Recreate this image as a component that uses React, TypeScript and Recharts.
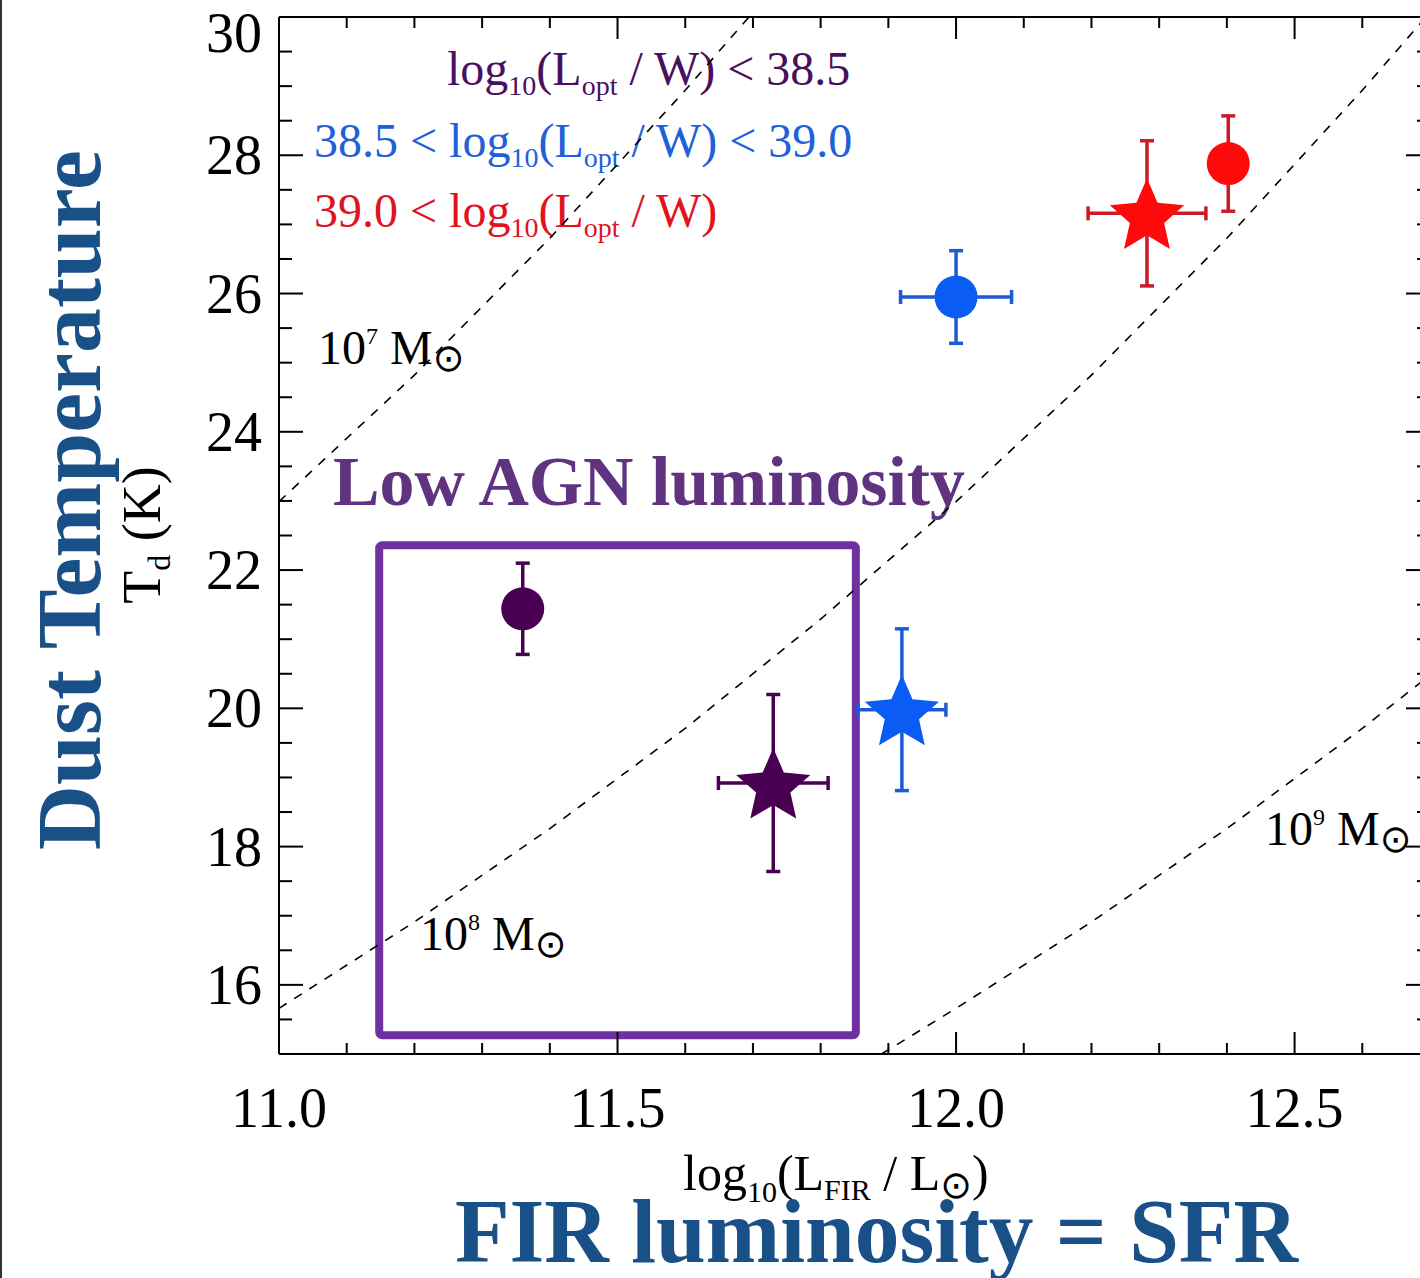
import React from 'react';
import { ScatterChart, Scatter, XAxis, YAxis, ErrorBar, ReferenceArea } from 'recharts';

// log10(L_FIR / L_sun) vs dust temperature, three AGN optical luminosity bins
const binColors = ['#4a0052', '#0a5cf5', '#ff0a0a'];
const barColors = ['#4a0052', '#1f5ad6', '#cc1a28'];

// circles
const circleL = [11.36, 12.0, 12.402];
const circleT = [21.44, 25.95, 27.88];
const circleLErr = [0, 0.082, 0];
const circleTErr = [0.66, 0.67, 0.69];

// stars
const starL = [11.73, 11.92, 12.282];
const starT = [18.92, 19.98, 27.16];
const starLErr = [0.081, 0.065, 0.087];
const starTErr = [1.28, 1.17, 1.05];

// constant dust mass tracks (10^7, 10^8, 10^9 M_sun)
const mass7L = [11.0, 11.2, 11.4, 11.6, 11.694];
const mass7T = [22.99, 24.82, 26.8, 28.94, 30.0];
const mass8L = [11.0, 11.2, 11.4, 11.6, 11.8, 12.0, 12.2, 12.4, 12.6, 12.694];
const mass8T = [15.66, 16.91, 18.26, 19.71, 21.29, 22.99, 24.82, 26.8, 28.94, 30.0];
const mass9L = [11.89, 12.0, 12.2, 12.4, 12.6, 12.7];
const mass9T = [15.0, 15.66, 16.91, 18.26, 19.71, 20.48];

const xTicks = [11.0, 11.1, 11.2, 11.3, 11.4, 11.5, 11.6, 11.7, 11.8, 11.9, 12.0, 12.1, 12.2, 12.3, 12.4, 12.5, 12.6, 12.7];
const yTicks = [15, 15.5, 16, 16.5, 17, 17.5, 18, 18.5, 19, 19.5, 20, 20.5, 21, 21.5, 22, 22.5, 23, 23.5, 24, 24.5, 25, 25.5, 26, 26.5, 27, 27.5, 28, 28.5, 29, 29.5, 30];

// box around the low-AGN points
const boxL = [11.148, 11.852];
const boxT = [15.27, 22.36];

const SERIF = '"Liberation Serif", "Times New Roman", serif';
const SUN = '"DejaVu Sans", sans-serif';
const TITLE_BLUE = '#1a5088';

const track = (ls: number[], ts: number[]) => ls.map((l, i) => ({ l, t: ts[i] }));
const point = (ls: number[], ts: number[], le: number[], te: number[], i: number) => [
  { l: ls[i], t: ts[i], lErr: le[i], tErr: te[i] },
];

const isMajorX = (v: number) => Math.abs(v * 2 - Math.round(v * 2)) < 1e-6;
const isMajorY = (v: number) => Math.abs(v / 2 - Math.round(v / 2)) < 1e-6;

const BottomTick = (props: any) => {
  const { x, y, payload } = props;
  const major = isMajorX(payload.value);
  return (
    <g>
      <line x1={x} x2={x} y1={y} y2={y - (major ? 22 : 11)} stroke="#000" strokeWidth={2} />
      {major && (
        <text x={x} y={y + 73} textAnchor="middle" fontSize={56} fontFamily={SERIF} fill="#000">
          {payload.value.toFixed(1)}
        </text>
      )}
    </g>
  );
};

const TopTick = (props: any) => {
  const { x, y, payload } = props;
  const major = isMajorX(payload.value);
  return <line x1={x} x2={x} y1={y} y2={y + (major ? 22 : 11)} stroke="#000" strokeWidth={2} />;
};

const LeftTick = (props: any) => {
  const { x, y, payload } = props;
  const v = payload.value;
  const major = isMajorY(v);
  const shift = v === 30 ? 16 : 0;
  return (
    <g>
      <line x1={x} x2={x + (major ? 24 : 13)} y1={y} y2={y} stroke="#000" strokeWidth={2} />
      {major && v > 15 && (
        <text x={x - 17} y={y + 19 + shift} textAnchor="end" fontSize={56} fontFamily={SERIF} fill="#000">
          {v}
        </text>
      )}
    </g>
  );
};

const RightTick = (props: any) => {
  const { x, y, payload } = props;
  const major = isMajorY(payload.value);
  return <line x1={x} x2={x - (major ? 24 : 13)} y1={y} y2={y} stroke="#000" strokeWidth={2} />;
};

const starPath = (cx: number, cy: number, R: number, r: number) => {
  const pts: string[] = [];
  for (let k = 0; k < 10; k++) {
    const a = -Math.PI / 2 + (k * Math.PI) / 5;
    const rad = k % 2 === 0 ? R : r;
    pts.push(`${(cx + rad * Math.cos(a)).toFixed(2)},${(cy + rad * Math.sin(a)).toFixed(2)}`);
  }
  return `M${pts.join('L')}Z`;
};

const starShape = (fill: string) => (p: any) => <path d={starPath(p.cx, p.cy + 4, 39, 18)} fill={fill} />;
const circleShape = (fill: string) => (p: any) => <circle cx={p.cx} cy={p.cy} r={21.5} fill={fill} />;
const noShape = () => <g />;

const dashLine = { stroke: '#000', strokeWidth: 1.6, strokeDasharray: '9 9' };

const MassLabel = ({ x, y, exp }: { x: number; y: number; exp: string }) => (
  <text x={x} y={y} fontSize={48} fontFamily={SERIF} fill="#000">
    10
    <tspan fontSize={24} dy={-20}>{exp}</tspan>
    <tspan dy={20}> M</tspan>
    <tspan fontFamily={SUN} fontSize={38} dy={7}>⊙</tspan>
  </text>
);

const axisLine = { stroke: '#000', strokeWidth: 2 };

export default function App() {
  return (
    <div style={{ position: 'absolute', left: 0, top: 0, width: 1420, height: 1278, overflow: 'hidden', background: '#fff' }}>
      <ScatterChart width={1440} height={1278} margin={{ top: 16, right: 9, bottom: 223, left: 278 }}>
        <XAxis
          type="number"
          dataKey="l"
          domain={[11, 12.7]}
          ticks={xTicks}
          allowDataOverflow
          height={1}
          tickSize={0}
          tickMargin={0}
          tickLine={false}
          interval={0}
          axisLine={axisLine}
          tick={<BottomTick />}
        />
        <XAxis
          xAxisId="top"
          orientation="top"
          type="number"
          dataKey="l"
          domain={[11, 12.7]}
          ticks={xTicks}
          allowDataOverflow
          height={1}
          tickSize={0}
          tickMargin={0}
          tickLine={false}
          interval={0}
          axisLine={axisLine}
          tick={<TopTick />}
        />
        <YAxis
          type="number"
          dataKey="t"
          domain={[15, 30]}
          ticks={yTicks}
          allowDataOverflow
          width={1}
          tickSize={0}
          tickMargin={0}
          tickLine={false}
          interval={0}
          axisLine={axisLine}
          tick={<LeftTick />}
        />
        <YAxis
          yAxisId="right"
          orientation="right"
          type="number"
          dataKey="t"
          domain={[15, 30]}
          ticks={yTicks}
          allowDataOverflow
          width={1}
          tickSize={0}
          tickMargin={0}
          tickLine={false}
          interval={0}
          axisLine={axisLine}
          tick={<RightTick />}
        />

        <Scatter data={track(mass7L, mass7T)} line={dashLine} shape={noShape} isAnimationActive={false} />
        <Scatter data={track(mass8L, mass8T)} line={dashLine} shape={noShape} isAnimationActive={false} />
        <Scatter data={track(mass9L, mass9T)} line={dashLine} shape={noShape} isAnimationActive={false} />

        {[0, 1, 2].map((i) => (
          <Scatter
            key={`star-${i}`}
            data={point(starL, starT, starLErr, starTErr, i)}
            shape={starShape(binColors[i])}
            isAnimationActive={false}
          >
            <ErrorBar dataKey="tErr" direction="y" width={7} strokeWidth={3.5} stroke={barColors[i]} />
            <ErrorBar dataKey="lErr" direction="x" width={7} strokeWidth={3.5} stroke={barColors[i]} />
          </Scatter>
        ))}
        {[0, 1, 2].map((i) => (
          <Scatter
            key={`circle-${i}`}
            data={point(circleL, circleT, circleLErr, circleTErr, i)}
            shape={circleShape(binColors[i])}
            isAnimationActive={false}
          >
            <ErrorBar dataKey="tErr" direction="y" width={7} strokeWidth={3.5} stroke={barColors[i]} />
            {circleLErr[i] > 0 && (
              <ErrorBar dataKey="lErr" direction="x" width={7} strokeWidth={3.5} stroke={barColors[i]} />
            )}
          </Scatter>
        ))}

        <ReferenceArea
          x1={boxL[0]}
          x2={boxL[1]}
          y1={boxT[0]}
          y2={boxT[1]}
          fill="none"
          fillOpacity={0}
          stroke="#7030a0"
          strokeWidth={8}
          radius={3}
          ifOverflow="visible"
        />

        {/* bin legend */}
        <text x={447} y={85} fill="#4a1060" fontSize={48} fontFamily={SERIF}>
          log<tspan fontSize={28} dy={10}>10</tspan>
          <tspan dy={-10}>(L</tspan>
          <tspan fontSize={28} dy={10}>opt</tspan>
          <tspan dy={-10}> / W) &lt; 38.5</tspan>
        </text>
        <text x={314} y={157} fill="#2060d8" fontSize={48} fontFamily={SERIF}>
          38.5 &lt; log<tspan fontSize={28} dy={10}>10</tspan>
          <tspan dy={-10}>(L</tspan>
          <tspan fontSize={28} dy={10}>opt</tspan>
          <tspan dy={-10}> / W) &lt; 39.0</tspan>
        </text>
        <text x={314} y={227} fill="#e0141e" fontSize={48} fontFamily={SERIF}>
          39.0 &lt; log<tspan fontSize={28} dy={10}>10</tspan>
          <tspan dy={-10}>(L</tspan>
          <tspan fontSize={28} dy={10}>opt</tspan>
          <tspan dy={-10}> / W)</tspan>
        </text>

        <MassLabel x={318} y={364} exp="7" />
        <MassLabel x={420} y={950} exp="8" />
        <MassLabel x={1265} y={845} exp="9" />

        <text x={333} y={505} fill="#5f3380" fontSize={70} fontWeight="bold" fontFamily={SERIF} textLength={632} lengthAdjust="spacingAndGlyphs">
          Low AGN luminosity
        </text>

        {/* axis titles */}
        <text x={683} y={1190} fill="#000" fontSize={50} fontFamily={SERIF}>
          log<tspan fontSize={30} dy={12}>10</tspan>
          <tspan dy={-12}>(L</tspan>
          <tspan fontSize={30} dy={10}>FIR</tspan>
          <tspan dy={-10}> / L</tspan>
          <tspan fontFamily={SUN} fontSize={38} dy={8}>⊙</tspan>
          <tspan dy={-8}>)</tspan>
        </text>
        <text x={455} y={1262} fill={TITLE_BLUE} fontSize={90} fontWeight="bold" fontFamily={SERIF} textLength={843} lengthAdjust="spacingAndGlyphs">
          FIR luminosity = SFR
        </text>
        <text
          transform="translate(100 850) rotate(-90)"
          x={0}
          y={0}
          fill={TITLE_BLUE}
          fontSize={92}
          fontWeight="bold"
          fontFamily={SERIF}
          textLength={700}
          lengthAdjust="spacingAndGlyphs"
        >
          Dust Temperature
        </text>
        <text transform="translate(160 535) rotate(-90)" x={0} y={0} textAnchor="middle" fill="#000" fontSize={54} fontFamily={SERIF}>
          T<tspan fontSize={32} dy={10}>d</tspan>
          <tspan dy={-10}> (K)</tspan>
        </text>
      </ScatterChart>
      <div style={{ position: 'absolute', left: 0, top: 0, width: 2, height: 1278, background: '#333' }} />
    </div>
  );
}
